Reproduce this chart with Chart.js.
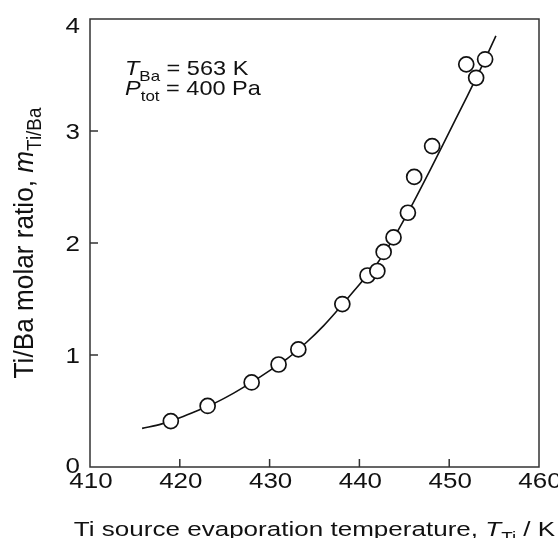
<!DOCTYPE html>
<html>
<head>
<meta charset="utf-8">
<script src="https://cdn.jsdelivr.net/npm/chart.js@4.4.1/dist/chart.umd.min.js"></script>
<style>
  html, body { margin: 0; padding: 0; background: #fff; }
  #wrap { width: 558px; height: 538px; }
</style>
</head>
<body>
<div id="wrap"><canvas id="chart" width="558" height="538"></canvas></div>
<script>
// measured points
const tempK = [419.0, 423.1, 428.0, 431.0, 433.2, 438.1, 440.9, 442.0, 442.7, 443.8, 445.4, 446.1, 448.1, 451.9, 453.0, 454.0];
const ratio = [0.41, 0.545, 0.755, 0.915, 1.05, 1.455, 1.71, 1.75, 1.92, 2.05, 2.27, 2.59, 2.865, 3.595, 3.475, 3.64];

// fitted curve
const fitT = [415.8, 418, 420, 422, 424, 426, 428, 430, 432, 434, 436, 438, 440, 442, 444, 446, 448, 450, 452, 454, 455.2];
const fitRatio = [0.345, 0.385, 0.44, 0.505, 0.575, 0.66, 0.755, 0.86, 0.97, 1.105, 1.26, 1.44, 1.63, 1.82, 2.07, 2.36, 2.67, 2.99, 3.31, 3.64, 3.85];

const xTicks = [410, 420, 430, 440, 450, 460];
const yTicks = [0, 1, 2, 3, 4];

const INK = '#111';
const FAMILY = '"Liberation Sans", Arial, sans-serif';

function fontFor(p, fs) {
  const size = p.sub ? fs * 0.72 : fs;
  return (p.it ? 'italic ' : '') + size + 'px ' + FAMILY;
}

function richWidth(ctx, parts, fs) {
  let w = 0;
  parts.forEach(p => { ctx.font = fontFor(p, fs); w += ctx.measureText(p.t).width; });
  return w;
}

// text with italic / subscript pieces; sx stretches along the text, sy across it
function drawRich(ctx, parts, fs, x, y, align, sx, sy, rot) {
  ctx.save();
  ctx.translate(x, y);
  if (rot) ctx.rotate(rot);
  ctx.scale(sx, sy);
  const w = richWidth(ctx, parts, fs);
  let cx = align === 'center' ? -w / 2 : align === 'right' ? -w : 0;
  ctx.textAlign = 'left';
  ctx.textBaseline = 'alphabetic';
  ctx.fillStyle = INK;
  parts.forEach(p => {
    ctx.font = fontFor(p, fs);
    ctx.fillText(p.t, cx, p.sub ? fs * 0.3 : 0);
    cx += ctx.measureText(p.t).width;
  });
  ctx.restore();
}

const frame = {
  id: 'frame',
  beforeDatasetsDraw(chart) {
    const { ctx, chartArea: a, scales: { x, y } } = chart;
    ctx.save();
    ctx.strokeStyle = '#333';
    ctx.lineWidth = 1.5;
    ctx.strokeRect(a.left, a.top, a.right - a.left, a.bottom - a.top);
    ctx.beginPath();
    xTicks.slice(1, -1).forEach(v => {
      const px = x.getPixelForValue(v);
      ctx.moveTo(px, a.bottom); ctx.lineTo(px, a.bottom - 8);
    });
    yTicks.slice(1, -1).forEach(v => {
      const py = y.getPixelForValue(v);
      ctx.moveTo(a.left, py); ctx.lineTo(a.left + 8, py);
    });
    ctx.stroke();
    ctx.restore();
  },
  afterDraw(chart) {
    const { ctx, chartArea: a, scales: { x, y } } = chart;
    // tick labels
    xTicks.forEach(v => {
      drawRich(ctx, [{ t: String(v) }], 22, x.getPixelForValue(v) + 1, a.bottom + 21, 'center', 1.18, 1);
    });
    yTicks.forEach(v => {
      const py = y.getPixelForValue(v);
      const base = Math.min(Math.max(py + 8, a.top + 14), a.bottom + 6);
      drawRich(ctx, [{ t: String(v) }], 22, a.left - 10, base, 'right', 1.18, 1);
    });
    // axis titles
    drawRich(ctx, [
      { t: 'Ti source evaporation temperature, ' },
      { t: 'T', it: true }, { t: 'Ti', sub: true }, { t: ' / K' }
    ], 20.5, (a.left + a.right) / 2, 536, 'center', 1.27, 1);
    drawRich(ctx, [
      { t: 'Ti/Ba molar ratio, ' },
      { t: 'm', it: true }, { t: 'Ti/Ba', sub: true }
    ], 27, 33, (a.top + a.bottom) / 2, 'center', 0.97, 1, -Math.PI / 2);
    // conditions
    drawRich(ctx, [{ t: 'T', it: true }, { t: 'Ba', sub: true }, { t: ' = 563 K' }], 21, 125, 75, 'left', 1.12, 1);
    drawRich(ctx, [{ t: 'P', it: true }, { t: 'tot', sub: true }, { t: ' = 400 Pa' }], 21, 125, 95, 'left', 1.12, 1);
  }
};

document.addEventListener('DOMContentLoaded', () => {
  new Chart(document.getElementById('chart').getContext('2d'), {
    type: 'scatter',
    data: {
      datasets: [
        {
          label: 'measured',
          data: tempK.map((t, i) => ({ x: t, y: ratio[i] })),
          pointRadius: 7.5,
          pointBorderWidth: 1.7,
          pointBorderColor: INK,
          pointBackgroundColor: '#fff',
          order: 0
        },
        {
          label: 'fit',
          data: fitT.map((t, i) => ({ x: t, y: fitRatio[i] })),
          showLine: true,
          pointRadius: 0,
          borderColor: INK,
          borderWidth: 1.6,
          tension: 0.4,
          cubicInterpolationMode: 'monotone',
          order: 1
        }
      ]
    },
    options: {
      responsive: false,
      animation: false,
      devicePixelRatio: 1,
      layout: { padding: { top: 19, right: 19, left: 0, bottom: 0 } },
      plugins: { legend: { display: false }, tooltip: { enabled: false } },
      scales: {
        x: {
          type: 'linear', min: 410, max: 460,
          ticks: { display: false, stepSize: 10 },
          grid: { display: false }, border: { display: false },
          afterFit: s => { s.height = 71; }
        },
        y: {
          min: 0, max: 4,
          ticks: { display: false, stepSize: 1 },
          grid: { display: false }, border: { display: false },
          afterFit: s => { s.width = 90; }
        }
      }
    },
    plugins: [frame]
  });
});
</script>
</body>
</html>
